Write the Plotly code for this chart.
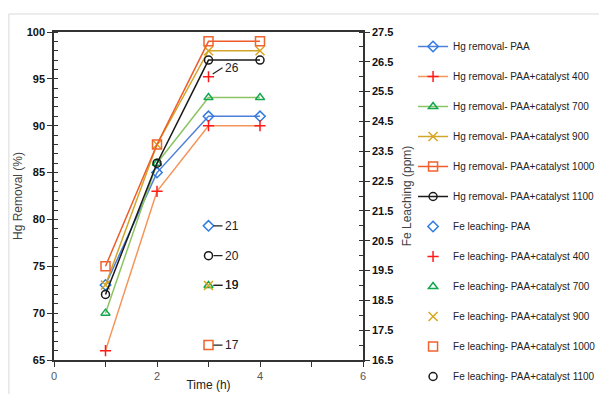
import plotly.graph_objects as go

time_h = [1, 2, 3, 4]
hg_paa = [73, 85, 91, 91]
hg_400 = [66, 83, 90, 90]
hg_700 = [70, 86, 93, 93]
hg_900 = [73, 88, 98, 98]
hg_1000 = [75, 88, 99, 99]
hg_1100 = [72, 86, 97, 97]

fe_time = 3
fe_paa = 21
fe_400 = 26
fe_700 = 19
fe_900 = 19
fe_1000 = 17
fe_1100 = 20

names = ["PAA", "PAA+catalyst 400", "PAA+catalyst 700", "PAA+catalyst 900",
         "PAA+catalyst 1000", "PAA+catalyst 1100"]
hg_series = [hg_paa, hg_400, hg_700, hg_900, hg_1000, hg_1100]
fe_series = [fe_paa, fe_400, fe_700, fe_900, fe_1000, fe_1100]

line_colors = ["#4F7FD9", "#F5955A", "#8CC464", "#D1A52A", "#EE5B2A", "#1A1A1A"]
marker_colors = ["#2F7BE0", "#FF1A1A", "#12A84E", "#D9A51F", "#F0622E", "#1A1A1A"]
symbols = ["diamond-open", "cross-thin-open", "triangle-up-open", "x-thin-open",
           "square-open", "circle-open"]
msizes = [8, 8, 8, 9, 9, 8]

fig = go.Figure()
for i, (nm, ys) in enumerate(zip(names, hg_series)):
    fig.add_trace(go.Scatter(
        x=time_h, y=ys, mode="lines+markers", name="Hg removal- " + nm,
        legendgroup="hg%d" % i,
        line=dict(color=line_colors[i], width=1.5),
        marker=dict(symbol=symbols[i], size=msizes[i], color=marker_colors[i],
                    line=dict(width=1.5, color=marker_colors[i])),
        yaxis="y"))
for i, (nm, v) in enumerate(zip(names, fe_series)):
    fig.add_trace(go.Scatter(
        x=[fe_time], y=[v], mode="markers", name="Fe leaching- " + nm,
        legendgroup="fe%d" % i,
        marker=dict(symbol=symbols[i], size=msizes[i], color=marker_colors[i],
                    line=dict(width=1.5, color=marker_colors[i])),
        yaxis="y2"))
    if i == 1:
        ax, ay = 14, -9
    else:
        ax, ay = 14, 0
    fig.add_annotation(x=fe_time, y=v, xref="x", yref="y2", text=str(v),
                       showarrow=True, arrowhead=0, arrowwidth=1.2, arrowcolor="#222",
                       ax=ax, ay=ay, standoff=5, xanchor="left",
                       font=dict(size=12, color="#222"))

fig.update_layout(
    width=599, height=386,
    margin=dict(l=46, r=244, t=24, b=34, autoexpand=False),
    plot_bgcolor="white", paper_bgcolor="white",
    font=dict(family="Liberation Sans", color="#333"),
    xaxis=dict(range=[0, 6], dtick=2, tick0=0, showgrid=False, zeroline=False,
               automargin=False,
               showline=True, linecolor="#333", linewidth=1.5, mirror=True,
               ticks="outside", ticklen=5, tickcolor="#333",
               minor=dict(dtick=1, ticks="outside", ticklen=5, tickcolor="#333"),
               tickfont=dict(family="Liberation Sans", size=11, color="#555"),
               title=dict(text="Time (h)", font=dict(size=12, color="#222"), standoff=0)),
    yaxis=dict(range=[65, 100], dtick=5, tick0=65, showgrid=False, zeroline=False,
               automargin=False,
               showline=True, linecolor="#333", linewidth=1.5,
               ticks="outside", ticklen=5, tickcolor="#333",
               minor=dict(dtick=1, ticks="inside", ticklen=4, tickcolor="#333"),
               tickfont=dict(family="Liberation Sans", size=11, color="#111", weight="bold"),
               title=dict(text="Hg Removal (%)", font=dict(size=12, color="#444"), standoff=1)),
    yaxis2=dict(range=[16.5, 27.5], dtick=1, tick0=16.5, overlaying="y", side="right",
                automargin=False,
                showgrid=False, zeroline=False, showline=True, linecolor="#333", linewidth=1.5,
                ticks="outside", ticklen=5, tickcolor="#333",
                minor=dict(dtick=0.5, ticks="inside", ticklen=4, tickcolor="#333"),
                tickformat=".1f",
                tickfont=dict(family="Liberation Sans", size=11, color="#111", weight="bold"),
                title=dict(text="Fe Leaching (ppm)", font=dict(size=12, color="#444"), standoff=10)),
    legend=dict(x=1.162, y=1.0, xanchor="left", yanchor="top",
                font=dict(family="Liberation Sans", size=10, color="#222"),
                tracegroupgap=11, traceorder="grouped", itemwidth=30,
                maxheight=394,
                bgcolor="rgba(0,0,0,0)"),
    showlegend=True,
)
fig.add_shape(type="rect", xref="paper", yref="paper",
              x0=-0.146, x1=2.0, y0=-0.3, y1=1.055,
              line=dict(color="#D9D9D9", width=1), fillcolor="rgba(0,0,0,0)", layer="below")

fig.write_html("out.html")
